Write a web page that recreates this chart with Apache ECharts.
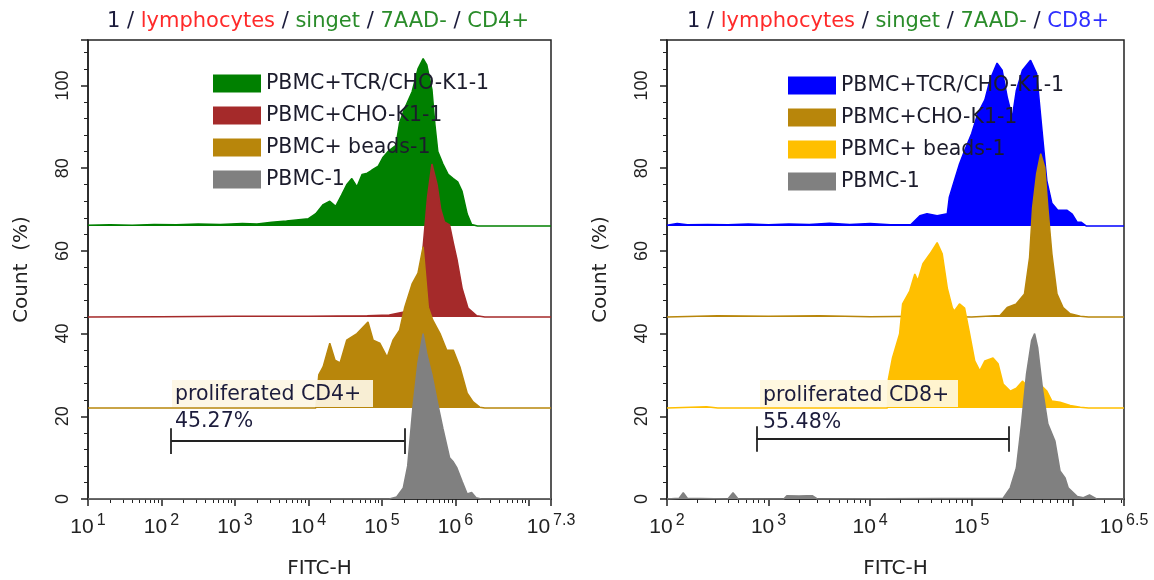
<!DOCTYPE html>
<html>
<head>
<meta charset="utf-8">
<script src="https://cdn.jsdelivr.net/npm/echarts@6/dist/echarts.min.js"></script>
<style>
  html, body { margin: 0; padding: 0; background: #fff; }
  #main { width: 1154px; height: 580px; }
</style>
</head>
<body>
<div id="main"></div>
<script type="text/javascript">
    // series names (same in both panels)
    var seriesNames = ['PBMC+TCR/CHO-K1-1', 'PBMC+CHO-K1-1', 'PBMC+ beads-1', 'PBMC-1'];
    // vertical offset of each histogram (Count %)
    var offsets = [66, 44, 22, 0];

    // CD4+ panel: [log10(FITC-H), count % above its own baseline]
    var cd4Tcr = [[1.0,0.2],[1.3,0.3],[1.6,0.2],[1.9,0.4],[2.2,0.3],[2.5,0.5],[2.8,0.4],[3.1,0.6],[3.3,0.5],[3.5,0.9],[3.7,1.2],[3.9,1.6],[4.0,1.8],[4.1,3.0],[4.2,5.2],[4.29,6.0],[4.37,4.8],[4.45,7.5],[4.52,10],[4.59,11.5],[4.66,9.5],[4.73,12.5],[4.8,12.8],[4.86,13.5],[4.95,14.5],[5.01,16.5],[5.08,18],[5.15,19],[5.19,19.5],[5.24,25],[5.31,28.5],[5.41,32.5],[5.49,38],[5.56,40.5],[5.61,39],[5.68,33],[5.72,24.6],[5.76,18],[5.83,15],[5.9,12.5],[5.97,11.5],[6.03,10.7],[6.09,8.4],[6.16,2.9],[6.22,0.4],[6.3,0],[7.3,0]];
    var cd4Cho = [[1,0],[2,0.1],[3,0.2],[4,0.2],[4.8,0.3],[5.1,0.5],[5.3,1.2],[5.45,3],[5.52,9],[5.57,19],[5.62,29],[5.68,37],[5.75,32],[5.8,26],[5.85,23],[5.92,22.3],[5.97,18],[6.02,14],[6.09,7],[6.17,2.2],[6.29,0.3],[6.4,0],[7.3,0]];
    var cd4Beads = [[1,0],[4.1,0],[4.14,8],[4.2,10],[4.29,15.7],[4.36,11.6],[4.43,10.9],[4.52,16.4],[4.66,18],[4.81,20.8],[4.88,16.4],[4.97,15.7],[5.07,12.3],[5.15,16.4],[5.24,18.8],[5.31,24.4],[5.41,30],[5.49,32.6],[5.56,39],[5.63,24.4],[5.69,21.3],[5.79,18],[5.88,14],[5.97,14],[6.06,10],[6.16,3.6],[6.24,1.5],[6.33,0.2],[6.4,0],[7.3,0]];
    var cd4Pbmc = [[1,0],[5.1,0],[5.2,0.5],[5.29,2.7],[5.35,8],[5.42,22],[5.49,33],[5.56,40],[5.61,35],[5.68,30],[5.75,23.7],[5.83,17],[5.92,10],[5.97,9],[6.02,7.5],[6.09,4.3],[6.16,1.2],[6.22,1.6],[6.28,0.3],[6.35,0],[7.3,0]];

    // CD8+ panel
    var cd8Tcr = [[2,0.2],[2.1,0.6],[2.2,0.3],[2.4,0.4],[2.6,0.3],[2.8,0.5],[3.0,0.3],[3.2,0.5],[3.4,0.4],[3.6,0.7],[3.8,0.4],[4.0,0.6],[4.2,0.3],[4.4,0.3],[4.49,2.5],[4.56,3],[4.66,2.5],[4.76,3],[4.78,7],[4.83,11],[4.88,15],[4.93,18.2],[5.0,22.4],[5.06,27.2],[5.13,30.5],[5.18,35.3],[5.25,39.4],[5.3,37.7],[5.35,31.2],[5.4,26.3],[5.44,32.8],[5.5,37.7],[5.58,40.1],[5.64,36.9],[5.69,23.8],[5.74,11],[5.79,5.5],[5.85,3.8],[5.94,3.8],[5.99,2.9],[6.04,0.9],[6.08,0.9],[6.13,0],[6.5,0]];
    var cd8Cho = [[2,0],[2.5,0.3],[3,0.2],[3.5,0.3],[4,0.1],[4.5,0.2],[5,0],[5.28,0.4],[5.35,2.3],[5.44,3.2],[5.52,5.6],[5.57,14.4],[5.6,26.5],[5.64,34.7],[5.68,39.5],[5.72,36.2],[5.75,26.5],[5.79,15.3],[5.84,5.6],[5.9,2.3],[5.97,0.8],[6.07,0.2],[6.15,0],[6.5,0]];
    var cd8Beads = [[2,0],[2.39,0.3],[2.5,0],[4.17,0],[4.18,7],[4.22,12.1],[4.29,17.9],[4.32,25.2],[4.39,28.3],[4.44,32.4],[4.47,30.8],[4.52,34.9],[4.59,37.3],[4.66,40],[4.71,37.3],[4.76,29],[4.81,24.2],[4.83,23.5],[4.88,25.2],[4.93,24.2],[4.98,17.9],[5.03,11.4],[5.08,9],[5.13,11.4],[5.21,12.1],[5.26,10.7],[5.31,5.8],[5.38,4.1],[5.44,4.8],[5.5,6.5],[5.57,4.8],[5.67,5.8],[5.74,4.1],[5.79,1.7],[5.87,1.4],[5.97,0.6],[6.07,0.2],[6.15,0],[6.5,0]];
    var cd8Pbmc = [[2,0],[2.12,0.2],[2.16,1.5],[2.2,0.2],[2.6,0],[2.65,1.5],[2.7,0],[3.15,0],[3.18,0.8],[3.3,0.7],[3.38,0.8],[3.43,0.8],[3.48,0],[5.31,0.2],[5.38,2.7],[5.44,7.5],[5.49,18],[5.54,30.2],[5.59,38.3],[5.62,40],[5.65,36.6],[5.7,26.1],[5.75,18.2],[5.82,14],[5.87,6.8],[5.92,5.1],[5.95,2.7],[6.04,0.6],[6.1,0.3],[6.16,1],[6.23,0],[6.5,0]];

    // axis ranges (log10) and gates
    var cd4Range = [1, 7.3];
    var cd8Range = [2, 6.5];
    var cd4Gate = [2.13, 5.31];
    var cd8Gate = [2.88, 5.37];
    var gateY = [14, 14.5];
    var gateTick = 3.1;
    var gateText = ['proliferated CD4+\n45.27%', 'proliferated CD8+\n55.48%'];
    var minorMantissa = [2, 3, 4, 5, 6, 7, 8, 9];

    var cd4Colors = ['#008000', '#a52a2a', '#b8860b', '#808080'];
    var cd8Colors = ['#0000ff', '#b8860b', '#ffbf00', '#808080'];

    var FONT = "'DejaVu Sans', sans-serif";
    var TICKFONT = "'Liberation Sans', Arial, sans-serif";
    var INK = '#222';

    var myChart = echarts.init(document.getElementById('main'));

    function minorTicks(range) {
        var out = [];
        for (var d = Math.floor(range[0]); d < range[1]; d++) {
            minorMantissa.forEach(function (m) {
                var v = d + Math.log10(m);
                if (v > range[0] && v < range[1]) out.push(v);
            });
        }
        return out;
    }

    function mainX(gi, range, hidden) {
        return {
            type: 'value', gridIndex: gi, min: range[0], max: range[1], interval: 1,
            name: 'FITC-H', nameLocation: 'middle', nameGap: 60,
            nameTextStyle: {fontFamily: FONT, fontSize: 20, color: INK},
            axisLine: {show: true, lineStyle: {color: INK, width: 1.5}},
            axisTick: {show: true, length: 7, lineStyle: {color: INK, width: 1.5}},
            splitLine: {show: false},
            axisLabel: {
                margin: 14,
                formatter: function (v) {
                    if (hidden.indexOf(v) >= 0) return '';
                    return '{b|10}{s|' + (Math.round(v * 10) / 10) + '}';
                },
                rich: {
                    b: {fontFamily: TICKFONT, fontSize: 21, color: INK},
                    s: {fontFamily: TICKFONT, fontSize: 16, color: INK, padding: [0, 0, 12, 3]}
                }
            }
        };
    }

    function minorX(gi, range) {
        return {
            type: 'value', gridIndex: gi, min: range[0], max: range[1], position: 'bottom',
            axisLine: {show: false}, axisLabel: {show: false}, splitLine: {show: false},
            axisTick: {show: true, length: 4, customValues: minorTicks(range), lineStyle: {color: INK, width: 1}}
        };
    }

    function yAx(gi) {
        return {
            type: 'value', gridIndex: gi, min: 0, max: 111, interval: 20,
            name: 'Count  (%)', nameLocation: 'middle', nameGap: 56,
            nameTextStyle: {fontFamily: FONT, fontSize: 20, color: INK},
            axisLine: {show: true, lineStyle: {color: INK, width: 1.5}},
            axisTick: {show: true, length: 7, lineStyle: {color: INK, width: 1.5}},
            minorTick: {show: true, splitNumber: 5, length: 4, lineStyle: {color: INK}},
            splitLine: {show: false},
            axisLabel: {
                rotate: 90, margin: 16, fontFamily: TICKFONT, fontSize: 18, color: INK,
                formatter: function (v) { return v > 100 ? '' : v; }
            }
        };
    }

    function histSeries(name, pts, base, color, xi, yi, z) {
        return {
            name: name, type: 'line', xAxisIndex: xi, yAxisIndex: yi, z: z,
            showSymbol: false, symbol: 'none', silent: true,
            data: pts.map(function (p) { return [p[0], base + p[1]]; }),
            lineStyle: {color: color, width: 1.5},
            itemStyle: {color: color},
            areaStyle: {color: color, opacity: 1, origin: base}
        };
    }

    function gateSeries(gate, y, xi, yi) {
        return {
            type: 'line', xAxisIndex: xi, yAxisIndex: yi, data: [], silent: true, z: 20,
            markLine: {
                symbol: 'none', silent: true, animation: false,
                label: {show: false},
                lineStyle: {color: INK, width: 1.8, type: 'solid'},
                data: [
                    [{coord: [gate[0], y]}, {coord: [gate[1], y]}],
                    [{coord: [gate[0], y + gateTick]}, {coord: [gate[0], y - gateTick]}],
                    [{coord: [gate[1], y + gateTick]}, {coord: [gate[1], y - gateTick]}]
                ]
            }
        };
    }

    function titleText(last, lastStyle) {
        return '{k|1} {k|/} {r|lymphocytes} {k|/} {g|singet} {k|/} {g|7AAD-} {k|/} {' + lastStyle + '|' + last + '}';
    }
    var titleRich = {
        k: {color: '#1c1c3c', fontFamily: FONT, fontSize: 21, fontWeight: 'normal'},
        r: {color: '#ff2a2a', fontFamily: FONT, fontSize: 21, fontWeight: 'normal'},
        g: {color: '#2a8c2a', fontFamily: FONT, fontSize: 21, fontWeight: 'normal'},
        b: {color: '#2f2fff', fontFamily: FONT, fontSize: 21, fontWeight: 'normal'}
    };

    function legendData(colors) {
        return seriesNames.map(function (n, i) {
            return {name: n, icon: 'rect', itemStyle: {color: colors[i], borderWidth: 0}};
        });
    }

    var series = [];
    var cd4Sets = [cd4Tcr, cd4Cho, cd4Beads, cd4Pbmc];
    var cd8Sets = [cd8Tcr, cd8Cho, cd8Beads, cd8Pbmc];
    seriesNames.forEach(function (n, i) {
        series.push(histSeries(n, cd4Sets[i], offsets[i], cd4Colors[i], 0, 0, 2 + i));
    });
    seriesNames.forEach(function (n, i) {
        series.push(histSeries(n, cd8Sets[i], offsets[i], cd8Colors[i], 2, 1, 2 + i));
    });
    series.push(gateSeries(cd4Gate, gateY[0], 0, 0));
    series.push(gateSeries(cd8Gate, gateY[1], 2, 1));

    var legendBase = {
        orient: 'vertical', itemWidth: 48, itemHeight: 18, itemGap: 11,
        selectedMode: false, z: 30,
        textStyle: {fontFamily: FONT, fontSize: 20.5, color: '#1c1c2c'}
    };

    var option = {
        animation: false,
        backgroundColor: '#fff',
        title: [
            {text: titleText('CD4+', 'g'), left: 313, top: 6, textAlign: 'center',
             textStyle: {fontFamily: FONT, fontSize: 21, fontWeight: 'normal', color: '#1c1c3c', rich: titleRich}},
            {text: titleText('CD8+', 'b'), left: 893, top: 6, textAlign: 'center',
             textStyle: {fontFamily: FONT, fontSize: 21, fontWeight: 'normal', color: '#1c1c3c', rich: titleRich}}
        ],
        legend: [
            Object.assign({}, legendBase, {left: 208, top: 68, data: legendData(cd4Colors)}),
            Object.assign({}, legendBase, {left: 783, top: 70, data: legendData(cd8Colors)})
        ],
        grid: [
            {left: 88, right: 603, top: 40, bottom: 81, show: true, borderColor: INK, borderWidth: 1.5,
             containLabel: false, outerBoundsMode: 'none'},
            {left: 667, right: 30, top: 40, bottom: 81, show: true, borderColor: INK, borderWidth: 1.5,
             containLabel: false, outerBoundsMode: 'none'}
        ],
        xAxis: [
            mainX(0, cd4Range, [7]),
            minorX(0, cd4Range),
            mainX(1, cd8Range, [6]),
            minorX(1, cd8Range)
        ],
        yAxis: [yAx(0), yAx(1)],
        series: series,
        graphic: [
            {type: 'rect', z: 100, shape: {x: 172, y: 380, width: 201, height: 27}, style: {fill: 'rgba(253,246,228,0.93)'}},
            {type: 'text', z: 101, left: 175, top: 381,
             style: {text: gateText[0], fontFamily: FONT, fontSize: 20.5, fill: '#1c1c3c', lineHeight: 27}},
            {type: 'rect', z: 100, shape: {x: 760, y: 380, width: 198, height: 27}, style: {fill: 'rgba(255,247,222,0.93)'}},
            {type: 'text', z: 101, left: 763, top: 382,
             style: {text: gateText[1], fontFamily: FONT, fontSize: 20.5, fill: '#1c1c3c', lineHeight: 27}}
        ]
    };
    myChart.setOption(option);
</script>
</body>
</html>
